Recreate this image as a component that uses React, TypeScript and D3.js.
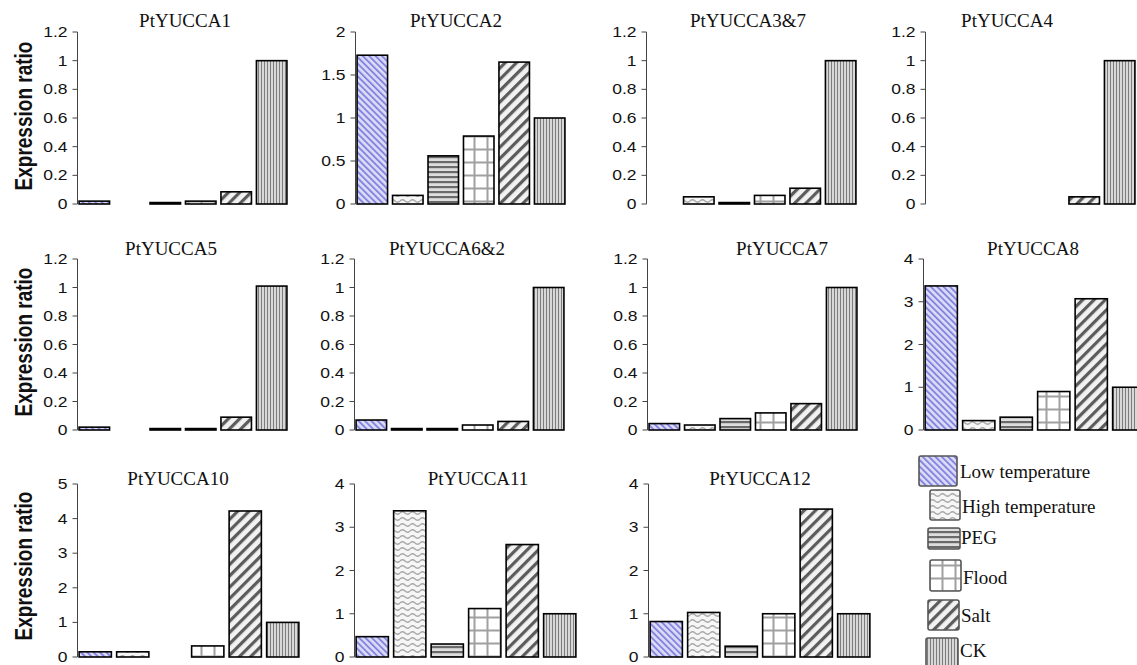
import React from "react";
import * as d3 from "d3";

const W = 1137;
const H = 665;

const treatments = ["Low temperature", "High temperature", "PEG", "Flood", "Salt", "CK"];
const genes = [
  "PtYUCCA1", "PtYUCCA2", "PtYUCCA3&7", "PtYUCCA4",
  "PtYUCCA5", "PtYUCCA6&2", "PtYUCCA7", "PtYUCCA8",
  "PtYUCCA10", "PtYUCCA11", "PtYUCCA12",
];

// expression ratio per treatment (0 = no bar)
const yucca1 = [0.02, 0, 0.01, 0.02, 0.085, 1.0];
const yucca2 = [1.73, 0.1, 0.56, 0.79, 1.65, 1.0];
const yucca3and7 = [0, 0.05, 0.01, 0.06, 0.11, 1.0];
const yucca4 = [0, 0, 0, 0, 0.05, 1.0];
const yucca5 = [0.02, 0, 0.01, 0.01, 0.09, 1.01];
const yucca6and2 = [0.07, 0.01, 0.01, 0.035, 0.06, 1.0];
const yucca7 = [0.045, 0.035, 0.08, 0.12, 0.185, 1.0];
const yucca8 = [3.37, 0.22, 0.3, 0.9, 3.07, 1.0];
const yucca10 = [0.15, 0.15, 0, 0.32, 4.22, 1.0];
const yucca11 = [0.47, 3.38, 0.3, 1.12, 2.6, 1.0];
const yucca12 = [0.82, 1.03, 0.25, 1.0, 3.42, 1.0];
const seriesValues = [yucca1, yucca2, yucca3and7, yucca4, yucca5, yucca6and2, yucca7, yucca8, yucca10, yucca11, yucca12];

const ticks12 = [0, 0.2, 0.4, 0.6, 0.8, 1, 1.2];
const ticks2 = [0, 0.5, 1, 1.5, 2];
const ticks4 = [0, 1, 2, 3, 4];
const ticks5 = [0, 1, 2, 3, 4, 5];
const panelTicks = [ticks12, ticks2, ticks12, ticks12, ticks12, ticks12, ticks12, ticks4, ticks5, ticks4, ticks4];

const patternIds = ["p-low", "p-high", "p-peg", "p-flood", "p-salt", "p-ck"];

// layout
const rows = [
  { bottom: 204, top: 32, titleY: 27, labelY: 116 },
  { bottom: 430, top: 259, titleY: 255, labelY: 342 },
  { bottom: 657, top: 484, titleY: 485, labelY: 566 },
];
const panels = [
  { row: 0, x0: 78, band: 35, tx: 185 },
  { row: 0, x0: 356, band: 35, tx: 456 },
  { row: 0, x0: 647, band: 35, tx: 748 },
  { row: 0, x0: 926, band: 35, tx: 1007 },
  { row: 1, x0: 78, band: 35, tx: 171 },
  { row: 1, x0: 355, band: 35, tx: 447 },
  { row: 1, x0: 648, band: 35, tx: 782 },
  { row: 1, x0: 924, band: 37, tx: 1033 },
  { row: 2, x0: 78, band: 37, tx: 178 },
  { row: 2, x0: 355, band: 37, tx: 478 },
  { row: 2, x0: 649, band: 37, tx: 760 },
];
const legendPos = [
  { x: 919, y: 456, w: 38, h: 30, tx: 960, ty: 478 },
  { x: 930, y: 490, w: 30, h: 30, tx: 962, ty: 513 },
  { x: 928, y: 528, w: 32, h: 21, tx: 961, ty: 544 },
  { x: 930, y: 560, w: 31, h: 31, tx: 963, ty: 584 },
  { x: 928, y: 600, w: 31, h: 30, tx: 961, ty: 622 },
  { x: 926, y: 638, w: 32, h: 30, tx: 960, ty: 657 },
];

const SERIF = "'Liberation Serif', 'Times New Roman', serif";
const SANS = "'Liberation Sans', Arial, sans-serif";
const fmt = (v: number) => String(+v.toFixed(1));

function Patterns() {
  return (
    <defs>
      <pattern id="p-low" width="4.5" height="4.5" patternUnits="userSpaceOnUse" patternTransform="rotate(-45)">
        <rect width="4.5" height="4.5" fill="#dcdcf8" />
        <rect width="1.9" height="4.5" fill="#8585de" />
      </pattern>
      <pattern id="p-high" width="10" height="6" patternUnits="userSpaceOnUse">
        <rect width="10" height="6" fill="#f6f6f6" />
        <path d="M0,3 Q2.5,0.5 5,3 T10,3" fill="none" stroke="#a8a8a8" strokeWidth="1.3" />
      </pattern>
      <pattern id="p-peg" width="6" height="5" patternUnits="userSpaceOnUse">
        <rect width="6" height="5" fill="#dedede" />
        <rect y="1" width="6" height="2.2" fill="#6a6a6a" />
      </pattern>
      <pattern id="p-flood" width="13" height="13" patternUnits="userSpaceOnUse">
        <rect width="13" height="13" fill="#ffffff" />
        <rect x="5.5" width="2" height="13" fill="#a0a0a0" />
        <rect y="5.5" width="13" height="2" fill="#a0a0a0" />
      </pattern>
      <pattern id="p-salt" width="8" height="8" patternUnits="userSpaceOnUse" patternTransform="rotate(45)">
        <rect width="8" height="8" fill="#f2f2f2" />
        <rect width="3.2" height="8" fill="#5c5c5c" />
      </pattern>
      <pattern id="p-ck" width="3" height="3" patternUnits="userSpaceOnUse">
        <rect width="3" height="3" fill="#d8d8d8" />
        <rect width="1" height="3" fill="#7c7c7c" />
      </pattern>
    </defs>
  );
}

function Panel({ index }: { index: number }) {
  const p = panels[index];
  const r = rows[p.row];
  const ticks = panelTicks[index];
  const values = seriesValues[index];
  const x = d3
    .scaleBand<string>()
    .domain(treatments)
    .range([p.x0, p.x0 + 6 * p.band])
    .paddingInner(0.14)
    .paddingOuter(0.03);
  const y = d3.scaleLinear().domain([0, ticks[ticks.length - 1]]).range([r.bottom, r.top]);
  const axisX = p.x0 - 0.5;
  return (
    <g>
      <text x={p.tx} y={r.titleY} textAnchor="middle" fontFamily={SERIF} fontSize={19} fill="#111">
        {genes[index]}
      </text>
      <line x1={axisX} x2={axisX} y1={y.range()[0]} y2={y.range()[1]} stroke="#444" strokeWidth={1} />
      {ticks.map((t) => (
        <g key={t}>
          <line x1={axisX - 5} x2={axisX} y1={y(t)} y2={y(t)} stroke="#444" strokeWidth={1} />
          <text
            transform={`translate(${axisX - 10},${y(t) + 5}) scale(1.25,1)`}
            textAnchor="end"
            fontFamily={SANS}
            fontSize={14}
            fill="#111"
          >
            {fmt(t)}
          </text>
        </g>
      ))}
      {treatments.map((c, i) =>
        values[i] > 0 ? (
          <rect
            key={c}
            x={x(c)}
            y={y(values[i])}
            width={x.bandwidth()}
            height={y(0) - y(values[i])}
            fill={`url(#${patternIds[i]})`}
            stroke="#000"
            strokeWidth={1.6}
          />
        ) : null
      )}
    </g>
  );
}

export default function App() {
  return (
    <svg
      width={W}
      height={H}
      viewBox={`0 0 ${W} ${H}`}
      style={{ position: "absolute", left: 0, top: 0, background: "#fff" }}
    >
      <Patterns />
      <rect width={W} height={H} fill="#fff" />
      {rows.map((r, i) => (
        <text
          key={i}
          transform={`translate(24,${r.labelY}) scale(1.22,1) rotate(-90)`}
          textAnchor="middle"
          dominantBaseline="central"
          fontFamily={SANS}
          fontWeight="bold"
          fontSize={19}
          fill="#111"
        >
          Expression ratio
        </text>
      ))}
      {panels.map((_, i) => (
        <Panel key={i} index={i} />
      ))}
      {treatments.map((t, i) => {
        const l = legendPos[i];
        return (
          <g key={t}>
            <rect x={l.x} y={l.y} width={l.w} height={l.h} rx={2} fill={`url(#${patternIds[i]})`} stroke="#555" strokeWidth={1.6} />
            <text x={l.tx} y={l.ty} fontFamily={SERIF} fontSize={19} fill="#111">
              {t}
            </text>
          </g>
        );
      })}
    </svg>
  );
}
